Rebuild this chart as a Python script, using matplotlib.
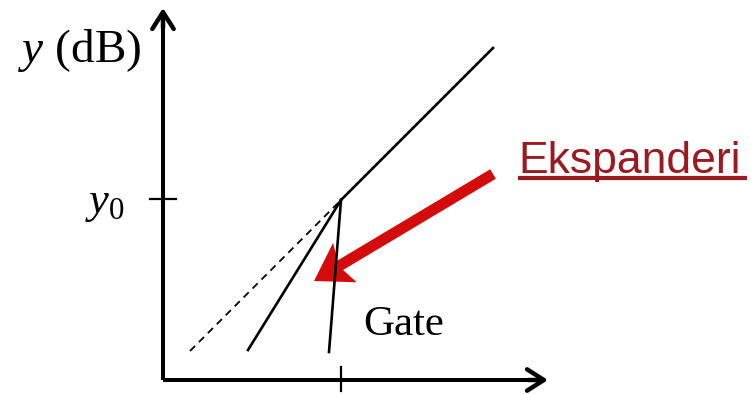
import matplotlib
matplotlib.use("Agg")
import matplotlib.pyplot as plt

# ── Diagram data (input level x vs output level y, arbitrary dB units) ──────
KNEE_X, KNEE_Y = 178, 180          # threshold point (x0, y0)
X_AXIS_LEN, Y_AXIS_LEN = 385, 372

upper_x   = [KNEE_X, 330]          # linear 1:1 above threshold
upper_y   = [KNEE_Y, 332]
dashed_x  = [27, KNEE_X]           # 1:1 continuation below threshold
dashed_y  = [29, KNEE_Y]
expand_x  = [85, KNEE_X]           # expander slope
expand_y  = [30, KNEE_Y]
gate_x    = [166, KNEE_X]          # gate (very steep)
gate_y    = [28, KNEE_Y]

arrow_tail = (330, 206)            # red pointer
arrow_tip  = (151, 99)

RED_TXT = "#9c1a1f"
RED_ARR = "#d40b0b"

plt.rcParams.update({
    "mathtext.fontset": "custom",
    "mathtext.rm": "Liberation Serif",
    "mathtext.it": "Liberation Serif:italic",
})

fig = plt.figure(figsize=(7.51, 3.94), dpi=100)
ax = fig.add_axes([0, 0, 1, 1])
ax.set_xlim(-163, 751 - 163)
ax.set_ylim(-14, 380)
ax.axis("off")

# axes with arrow heads
ax.plot([0, 0], [0, Y_AXIS_LEN - 6], color="black", lw=2.9, solid_capstyle="butt")
ax.plot([0, X_AXIS_LEN - 6], [0, 0], color="black", lw=2.9, solid_capstyle="butt")
ax.annotate("", xy=(0, Y_AXIS_LEN), xytext=(0, Y_AXIS_LEN - 20),
            arrowprops=dict(arrowstyle="->,head_length=0.55,head_width=0.35",
                            lw=3.2, color="black", mutation_scale=22,
                            shrinkA=0, shrinkB=0))
ax.annotate("", xy=(X_AXIS_LEN, 0), xytext=(X_AXIS_LEN - 20, 0),
            arrowprops=dict(arrowstyle="->,head_length=0.55,head_width=0.35",
                            lw=3.2, color="black", mutation_scale=22,
                            shrinkA=0, shrinkB=0))

# ticks
ax.plot([-13, 13], [KNEE_Y + 1, KNEE_Y + 1], color="black", lw=1.6)
ax.plot([KNEE_X, KNEE_X], [-11, 13], color="black", lw=1.6)

# curves
ax.plot(upper_x, upper_y, color="black", lw=1.9)
ax.plot(dashed_x, dashed_y, color="black", lw=1.3, dashes=(4, 3))
ax.plot(expand_x, expand_y, color="black", lw=1.9)
ax.plot(gate_x, gate_y, color="black", lw=1.9)

# red pointer
ax.arrow(arrow_tail[0], arrow_tail[1],
         arrow_tip[0] - arrow_tail[0], arrow_tip[1] - arrow_tail[1],
         width=11, head_width=46, head_length=36, overhang=0.15,
         length_includes_head=True, color=RED_ARR, lw=0)

# labels
ax.text(-145, 318, r"$y$ (dB)", fontsize=34, family="Liberation Serif",
        va="baseline", ha="left")
ax.text(-78, 167, r"$y_0$", fontsize=32, family="Liberation Serif",
        va="baseline", ha="left")
ax.text(200, 45, "Gate", fontsize=31, family="Liberation Serif",
        va="baseline", ha="left")
ax.text(355, 207, "Ekspanderi", fontsize=32, family="Liberation Sans",
        color=RED_TXT, va="baseline", ha="left")
ax.plot([355, 584], [202, 202], color=RED_TXT, lw=3, solid_capstyle="butt")

fig.savefig("out.png", dpi=100)
